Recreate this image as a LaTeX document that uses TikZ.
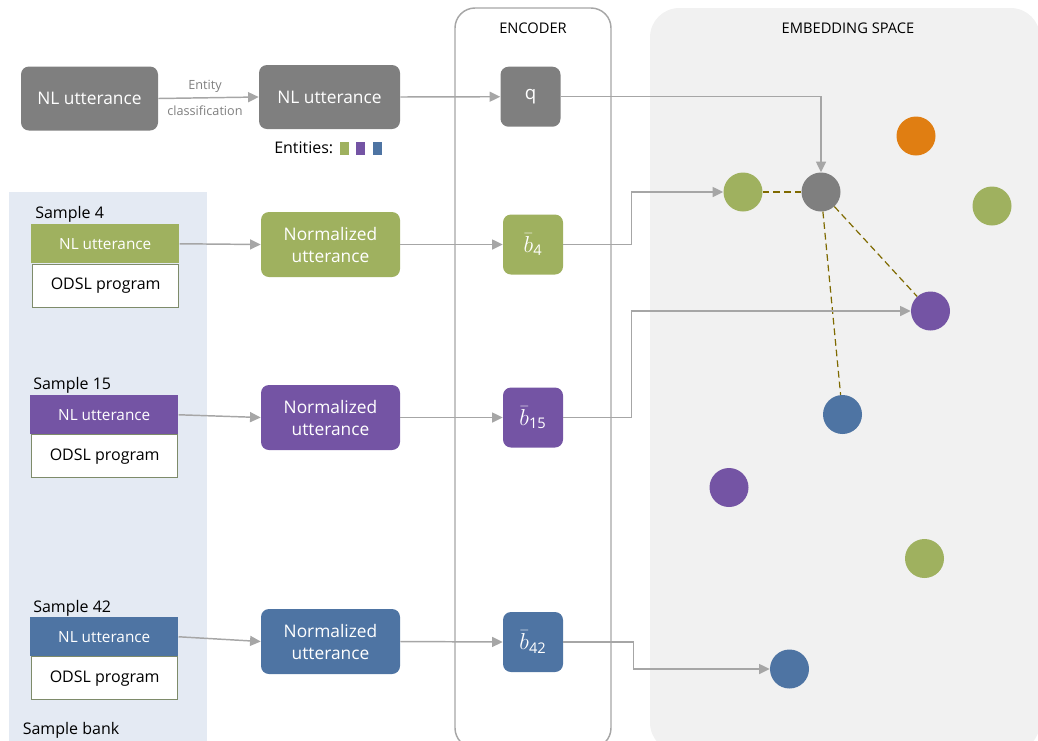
\documentclass[tikz,border=0pt]{standalone}
\usepackage{fontspec}
\setmainfont{Open Sans}
\usetikzlibrary{arrows.meta}
\definecolor{cgreen}{HTML}{9FB15F}
\definecolor{cpurple}{HTML}{7454A4}
\definecolor{cblue}{HTML}{4E74A3}
\definecolor{cgray}{HTML}{7F7F7F}
\definecolor{corange}{HTML}{E07E12}
\definecolor{carrow}{HTML}{A6A6A6}
\definecolor{cdash}{HTML}{7F6A00}
\definecolor{cbank}{HTML}{E4EAF3}
\definecolor{cembed}{HTML}{F1F1F1}
\definecolor{codsl}{HTML}{7E8B6A}
\newcommand\bsub[1]{{\fontsize{17}{17}\selectfont$\bar{b}_{\mbox{\fontsize{11}{11}\selectfont #1}}$}}
\begin{document}
\begin{tikzpicture}[x=0.75pt,y=-0.75pt,
  box/.style={rounded corners=6pt, text=white, align=center, inner sep=0pt,
    font=\fontsize{13}{16.5}\selectfont},
  bigbox/.style={box, minimum width=140*0.75pt, minimum height=64*0.75pt},
  encbox/.style={box, minimum width=60*0.75pt, minimum height=60*0.75pt},
  bar/.style={rectangle, inner sep=0pt, text=white, minimum width=148*0.75pt,
    minimum height=39*0.75pt, font=\fontsize{11.5}{13}\selectfont},
  odsl/.style={rectangle, inner sep=0pt, fill=white, draw=codsl, line width=1pt,
    minimum width=146*0.75pt, minimum height=43*0.75pt, font=\fontsize{12}{14}\selectfont},
  dot/.style={circle, inner sep=0pt, minimum size=39*0.75pt},
  arr/.style={draw=carrow, line width=1.1pt, -{Triangle[length=8pt,width=7.5pt]}},
  dsh/.style={draw=cdash, line width=0.9pt, dash pattern=on 5pt off 3pt},
  lbl/.style={anchor=west, inner sep=0pt, font=\fontsize{12}{14}\selectfont},
  small/.style={text=cgray, inner sep=0pt, font=\fontsize{9.5}{11}\selectfont},
  sq/.style={rectangle, inner sep=0pt, minimum width=9*0.75pt, minimum height=13*0.75pt}
]
\useasboundingbox (0,0) rectangle (1038,740);
% backgrounds
\fill[cbank] (9,192) rectangle (207,745);
\fill[cembed, rounded corners=22pt] (650,8) rectangle (1040,752);
\draw[carrow, line width=1.1pt, rounded corners=15pt] (455,8) rectangle (611,748);
\node[font=\fontsize{11}{13}\selectfont] (enc) at (533,28) {ENCODER};
\node[font=\fontsize{11}{13}\selectfont] (emb) at (848,28) {EMBEDDING SPACE};

% top row
\node[bigbox, fill=cgray, minimum width=137*0.75pt] (nl1) at (89.5,98.5) {NL utterance};
\node[bigbox, fill=cgray, minimum width=141*0.75pt] (nl2) at (329.5,97) {NL utterance};
\node[encbox, fill=cgray, font=\fontsize{14}{16}\selectfont] (q) at (530.5,96.7) {q};
\draw[arr] (nl1.east) -- (nl2.west);
\node[small] (ent1) at (205,86) {Entity};
\node[small] (ent2) at (205,111) {classification};
\draw[arr] (nl2.east) -- (q.west);
\node[lbl] (ent) at (274,148) {Entities:};
\node[sq, fill=cgreen] (s1) at (344,148) {};
\node[sq, fill=cpurple] (s2) at (360,148) {};
\node[sq, fill=cblue] (s3) at (377,148) {};

% embedding dots
\node[dot, fill=cgray] (gc) at (821,192) {};
\node[dot, fill=cgreen] (gl) at (743,192) {};
\node[dot, fill=corange] (oc) at (916,136) {};
\node[dot, fill=cgreen] (gr) at (992,206) {};
\node[dot, fill=cpurple] (pr) at (930.5,311) {};
\node[dot, fill=cblue] (bc) at (842.5,414.5) {};
\node[dot, fill=cpurple] (pl) at (729,487.5) {};
\node[dot, fill=cgreen] (gb) at (924.5,558.5) {};
\node[dot, fill=cblue] (bb) at (789.5,669) {};
\draw[dsh] (gc) -- (gl);
\draw[dsh] (gc) -- (pr);
\draw[dsh] (gc) -- (bc);
\draw[arr] (q.east) -| (gc.north);

% sample 4
\node[lbl] (t4) at (35,214) {Sample 4};
\node[bar, fill=cgreen, anchor=north west] (u4) at (31,224) {NL utterance};
\node[odsl, anchor=north west] (o4) at (32,263.5) {ODSL program};
\node[bigbox, fill=cgreen, minimum width=139*0.75pt, minimum height=65*0.75pt] (n4) at (330.5,244.5) {Normalized\\utterance};
\node[encbox, fill=cgreen] (b4) at (533,244.5) {\bsub{4}};
\draw[arr] (u4.east) -- (n4.west);
\draw[arr] (n4.east) -- (b4.west);
\draw[arr] (b4.east) -- ++(68,0) |- (gl.west);

% sample 15
\node[lbl] (t15) at (33,385) {Sample 15};
\node[bar, fill=cpurple, anchor=north west] (u15) at (30,395) {NL utterance};
\node[odsl, anchor=north west] (o15) at (31,434) {ODSL program};
\node[bigbox, fill=cpurple, minimum width=139*0.75pt, minimum height=65*0.75pt] (n15) at (330.5,417.5) {Normalized\\utterance};
\node[encbox, fill=cpurple] (b15) at (533,417.5) {\bsub{15}};
\draw[arr] (u15.east) -- (n15.west);
\draw[arr] (n15.east) -- (b15.west);
\draw[arr] (b15.east) -- ++(68,0) |- (pr.west);

% sample 42
\node[lbl] (t42) at (33,608) {Sample 42};
\node[bar, fill=cblue, anchor=north west] (u42) at (30,617) {NL utterance};
\node[odsl, anchor=north west] (o42) at (31,656) {ODSL program};
\node[bigbox, fill=cblue, minimum width=139*0.75pt, minimum height=65*0.75pt] (n42) at (330.5,641.5) {Normalized\\utterance};
\node[encbox, fill=cblue] (b42) at (533,642) {\bsub{42}};
\draw[arr] (u42.east) -- (n42.west);
\draw[arr] (n42.east) -- (b42.west);
\draw[arr] (b42.east) -- ++(70,0) |- (bb.west);

\node[lbl] (bank) at (22.5,730) {Sample bank};
\end{tikzpicture}
\end{document}
